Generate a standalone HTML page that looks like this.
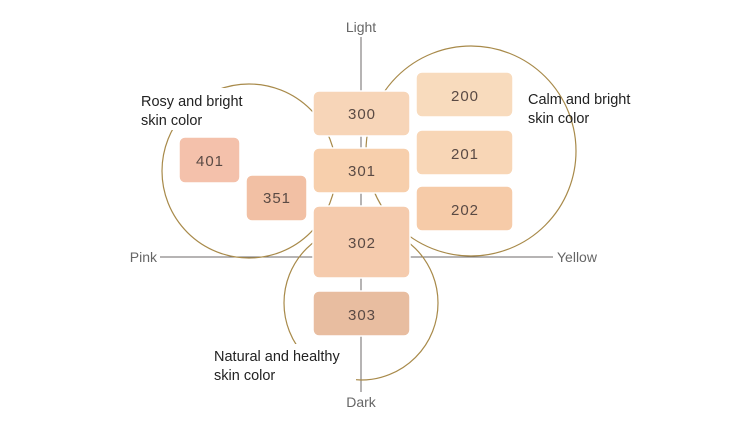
<!DOCTYPE html>
<html><head><style>
body{margin:0;background:#fff;}
svg{display:block;font-family:"Liberation Sans",sans-serif;}
</style></head><body>
<svg width="730" height="445" viewBox="0 0 730 445" xmlns="http://www.w3.org/2000/svg">
<line x1="361" y1="37" x2="361" y2="392" stroke="#6e6a68" stroke-width="1"/>
<line x1="160" y1="257" x2="553" y2="257" stroke="#6e6a68" stroke-width="1"/>
<g fill="none" stroke="#a88a4a" stroke-width="1.2">
<circle cx="249" cy="171" r="87"/>
<circle cx="471" cy="151" r="105"/>
<circle cx="361" cy="303" r="77"/>
</g>
<rect x="138" y="88" width="116" height="42" fill="#fff"/>
<rect x="210" y="344" width="146" height="42" fill="#fff"/>
<g stroke="#fff" stroke-width="1.5">
<rect x="313" y="91" width="97" height="45" rx="6" fill="#f7d5b8"/>
<rect x="313" y="148" width="97" height="45" rx="6" fill="#f7cfac"/>
<rect x="313" y="206" width="97" height="72" rx="6" fill="#f5cbad"/>
<rect x="313" y="291" width="97" height="45" rx="6" fill="#e8bda0"/>
<rect x="179" y="137" width="61" height="46" rx="6" fill="#f4c1ab"/>
<rect x="246" y="175" width="61" height="46" rx="6" fill="#f2c0a4"/>
<rect x="416" y="72" width="97" height="45" rx="6" fill="#f8dbbd"/>
<rect x="416" y="130" width="97" height="45" rx="6" fill="#f8d6b6"/>
<rect x="416" y="186" width="97" height="45" rx="6" fill="#f6cba8"/>
</g>
<g fill="#5a4a44" font-size="15" text-anchor="middle" letter-spacing="1">
<text x="362" y="119">300</text>
<text x="362" y="176">301</text>
<text x="362" y="248">302</text>
<text x="362" y="320">303</text>
<text x="210" y="166">401</text>
<text x="277" y="203">351</text>
<text x="465" y="101">200</text>
<text x="465" y="159">201</text>
<text x="465" y="215">202</text>
</g>
<g fill="#666" font-size="14">
<text x="361" y="32" text-anchor="middle">Light</text>
<text x="361" y="407" text-anchor="middle">Dark</text>
<text x="157" y="262" text-anchor="end">Pink</text>
<text x="557" y="262">Yellow</text>
</g>
<g fill="#222" font-size="14.5">
<text x="141" y="106">Rosy and bright</text>
<text x="141" y="125">skin color</text>
<text x="528" y="104">Calm and bright</text>
<text x="528" y="123">skin color</text>
<text x="214" y="361">Natural and healthy</text>
<text x="214" y="380">skin color</text>
</g>
</svg>
</body></html>
